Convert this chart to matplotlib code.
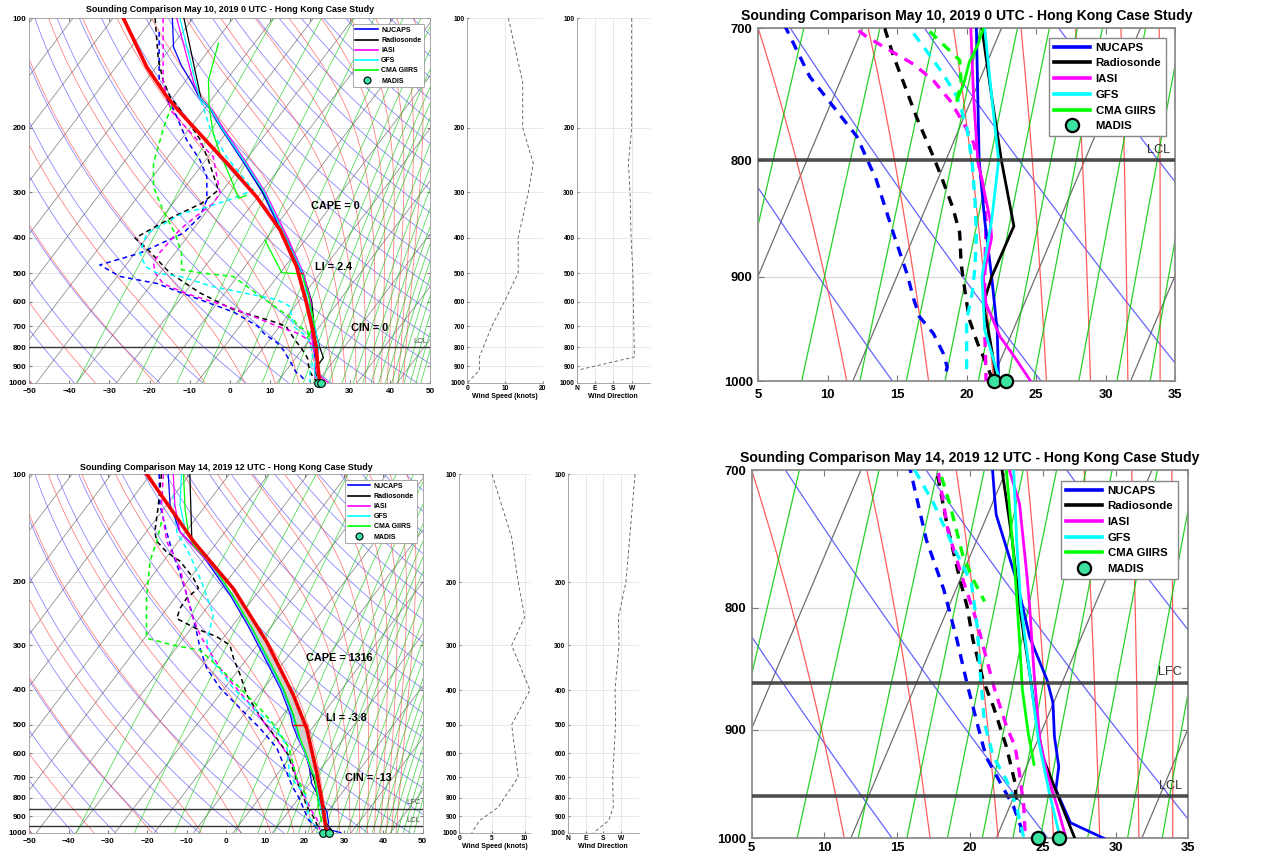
import numpy as np
import matplotlib
matplotlib.use("Agg")
import matplotlib.pyplot as plt
from matplotlib.lines import Line2D
from matplotlib.ticker import NullLocator

plt.rcParams['font.family'] = ['Liberation Sans', 'DejaVu Sans']
plt.rcParams['font.weight'] = 'bold'

nan = float('nan')

# ---------------------------------------------------------------------------
# data: pressures (hPa) and x positions on the skewed temperature axis
# ---------------------------------------------------------------------------
SOURCES = ['NUCAPS', 'Radiosonde', 'IASI', 'GFS', 'CMA GIIRS']
COLORS = ['#0000ff', '#000000', '#ff00ff', '#00ffff', '#00ff00']
MADIS_FC = '#3ce3a0'

# ---- May 10, 2019 0 UTC ----
a_nucaps_t_p = [100, 120, 135, 150, 165, 178, 200, 250, 300, 400, 500, 600, 700, 800, 850, 900, 950, 1000]
a_nucaps_t_x = [-14.3, -14.0, -12.0, -9.5, -7.6, -4.8, -2.2, 3.6, 8.1, 13.7, 18.0, 20.2, 20.7, 20.9, 21.3, 21.8, 22.2, 22.3]
a_nucaps_d_p = [109, 150, 168, 178, 216, 245, 272, 315, 350, 389, 441, 475, 511, 534, 574, 640, 700, 735, 781, 816, 864, 897, 921, 937, 953, 972, 986, 992]
a_nucaps_d_x = [-17.6, -17.6, -15.5, -14.0, -10.7, -7.4, -5.7, -5.7, -7.4, -11.6, -22.4, -32.4, -27.4, -18.2, -10.7, 1.0, 7.0, 8.7, 12.1, 13.5, 14.8, 15.7, 16.2, 16.6, 17.6, 18.3, 18.6, 18.5]

a_raob_t_p = [100, 150, 165, 178, 200, 250, 300, 400, 500, 600, 700, 750, 800, 855, 900, 925, 953, 985, 1000]
a_raob_t_x = [-11.4, -8.0, -7.2, -4.6, -1.9, 4.0, 8.4, 14.1, 18.3, 20.5, 21.1, 21.8, 22.5, 23.4, 21.8, 21.2, 21.6, 22.0, 22.1]
a_raob_d_p = [100, 130, 148, 164, 178, 215, 245, 296, 322, 350, 401, 428, 500, 567, 630, 680, 700, 719, 766, 797, 811, 839, 861, 888, 915, 940, 963, 982, 1000]
a_raob_d_x = [-18.6, -17.8, -16.6, -14.9, -12.4, -7.4, -5.3, -2.8, -7.0, -14.0, -23.6, -20.7, -14.9, -7.4, 0.9, 10.9, 14.1, 14.7, 16.4, 17.6, 18.1, 19.0, 19.5, 19.6, 19.9, 20.2, 20.8, 21.4, 21.9]

a_iasi_t_p = [100, 150, 165, 178, 200, 250, 300, 400, 500, 600, 700, 750, 800, 850, 865, 900, 925, 956, 975, 1000]
a_iasi_t_x = [-13.2, -9.0, -7.4, -4.4, -1.6, 4.3, 8.9, 14.5, 18.4, 20.3, 20.3, 20.5, 20.8, 21.7, 21.8, 21.2, 21.4, 22.4, 23.4, 24.6]
a_iasi_d_p = [100, 150, 164, 180, 220, 240, 302, 322, 350, 380, 440, 470, 500, 535, 570, 620, 700, 706, 716, 726, 738, 753, 771, 786, 800, 822, 850, 900, 950, 1000]
a_iasi_d_x = [-16.6, -16.6, -15.7, -14.5, -7.4, -4.1, -2.4, -4.1, -8.5, -12.4, -17.5, -19.0, -18.6, -16.6, -10.7, 0.0, 12.0, 12.8, 14.5, 16.2, 17.6, 18.8, 19.8, 20.5, 20.8, 21.2, 21.4, 21.3, 21.3, 21.4]

a_gfs_t_p = [100, 150, 165, 178, 200, 250, 300, 400, 500, 600, 700, 750, 800, 850, 900, 950, 1000]
a_gfs_t_x = [-12.4, -8.5, -7.5, -4.6, -2.0, 4.0, 8.6, 14.0, 18.2, 19.5, 21.3, 21.8, 22.3, 21.8, 21.1, 21.3, 22.4]
a_gfs_d_p = [160, 175, 200, 240, 296, 312, 330, 342, 390, 440, 480, 500, 511, 545, 569, 591, 617, 700, 716, 733, 750, 773, 802, 833, 862, 891, 915, 940, 969, 996]
a_gfs_d_x = [-8.0, -6.6, -4.9, -0.8, 5.9, 0.9, -5.7, -11.6, -20.7, -22.4, -21.0, -18.2, -12.4, -4.1, 4.2, 11.7, 15.0, 15.9, 17.1, 18.3, 19.3, 20.0, 20.4, 20.6, 20.7, 20.6, 20.4, 20.0, 20.0, 20.0]

a_cma_t_p = [117, 148, 175, 207, 235, 272, 312, 306, nan, 406, 499, 503, 570, 640, 700, 712, 724, 740, 753]
a_cma_t_x = [-2.8, -5.3, -5.1, -4.1, -2.4, 0.1, 2.2, 4.2, nan, 8.8, 13.0, 18.0, 19.6, 20.5, 21.2, 20.8, 20.2, 19.8, 19.3]
a_cma_d_p = [174, 200, 250, 290, 337, 390, 441, 490, 500, 511, 569, 673, 700, 723, 740, 753]
a_cma_d_x = [-14.5, -16.5, -19.0, -19.0, -16.6, -13.6, -12.0, -12.0, -7.0, 0.9, 6.7, 16.0, 17.1, 19.5, 19.6, 19.3]

a_parcel_p = [100, 136, 164, 178, 216, 255, 309, 381, 480, 606, 730, 800, 900, 1000]
a_parcel_x = [-26.5, -20.7, -15.7, -13.0, -6.0, 0.1, 6.7, 12.6, 16.7, 19.2, 20.9, 21.6, 22.0, 22.5]
a_li_x = [16.7, 18.4]
a_madis_x = [22.0, 22.8]

a_wind_p = [100, 150, 200, 250, 300, 400, 500, 600, 700, 850, 925, 1000]
a_wspd = [10.9, 14.7, 14.7, 17.5, 16.2, 13.5, 13.5, 9.8, 6.5, 3.2, 3.2, 0.0]
a_wdir_p = [100, 200, 250, 300, 400, 500, 850, 925]
a_wdir = [270, 270, 254, 262, 267, 276, 283, 0]

# ---- May 14, 2019 12 UTC ----
b_nucaps_t_p = [100, 122, 145, 158, 175, 217, 270, 319, 396, 470, 500, 546, 606, 660, 700, 720, 731, 779, 823, 858, 877, 906, 933, 954, 985, 1000]
b_nucaps_t_x = [-14.7, -14.2, -11.7, -8.3, -4.9, 1.0, 6.0, 9.4, 13.8, 16.4, 16.9, 18.3, 20.3, 21.2, 21.55, 21.7, 21.8, 23.2, 24.1, 25.3, 25.7, 25.8, 26.1, 25.9, 26.9, 29.2]
b_nucaps_d_p = [100, 122, 145, 168, 195, 217, 243, 275, 306, 348, 395, 450, 511, 580, 660, 700, 749, 786, 825, 861, 895, 924, 948, 970, 989, 1000]
b_nucaps_d_x = [-17.0, -16.8, -15.1, -13.4, -11.3, -10.0, -8.7, -7.5, -6.6, -4.9, -1.5, 3.6, 8.6, 12.9, 15.0, 15.9, 17.0, 18.2, 19.1, 19.8, 20.5, 21.1, 22.1, 23.0, 23.5, 23.5]

b_raob_t_p = [100, 151, 179, 217, 270, 319, 396, 470, 546, 606, 676, 700, 749, 799, 852, 895, 924, 948, 979, 1000]
b_raob_t_x = [-9.2, -8.7, -3.6, 1.5, 6.6, 10.0, 14.3, 16.9, 18.6, 20.3, 21.6, 22.2, 22.9, 23.4, 24.1, 24.6, 25.0, 25.7, 26.6, 27.2]
b_raob_d_p = [100, 125, 145, 154, 165, 175, 195, 208, 222, 237, 253, 270, 284, 300, 326, 363, 413, 490, 546, 606, 676, 700, 737, 778, 799, 825, 858, 880, 915, 948, 970]
b_raob_d_x = [-16.4, -17.3, -18.1, -17.6, -15.1, -11.7, -8.3, -7.0, -10.0, -11.7, -12.5, -7.5, -2.4, 1.0, 1.9, 3.6, 5.3, 9.5, 12.9, 15.8, 17.2, 17.7, 18.4, 19.3, 19.8, 20.2, 20.9, 21.6, 22.5, 23.1, 23.2]

b_iasi_t_p = [100, 122, 145, 158, 179, 217, 270, 319, 396, 470, 546, 606, 676, 700, 723, 774, 799, 852, 909, 939, 970, 1000]
b_iasi_t_x = [-13.4, -13.0, -11.7, -8.6, -3.8, 1.3, 6.4, 9.8, 14.1, 16.7, 18.5, 20.2, 21.7, 22.7, 23.4, 23.9, 24.1, 24.4, 24.8, 25.3, 26.0, 26.6]
b_iasi_d_p = [100, 122, 154, 183, 217, 247, 281, 313, 348, 387, 450, 534, 580, 646, 700, 743, 778, 812, 839, 866, 897, 915, 939, 970, 1000]
b_iasi_d_x = [-15.9, -16.4, -15.1, -11.7, -10.0, -8.7, -6.6, -4.1, -1.5, 1.9, 7.0, 12.0, 14.5, 17.0, 17.8, 18.5, 19.5, 20.5, 21.1, 21.7, 22.5, 23.1, 23.4, 23.7, 23.8]

b_gfs_t_p = [100, 122, 142, 155, 179, 217, 270, 319, 396, 470, 546, 606, 676, 700, 749, 799, 852, 909, 954, 1000]
b_gfs_t_x = [-11.3, -11.7, -10.4, -8.3, -3.7, 1.4, 6.5, 9.9, 14.2, 16.8, 18.6, 20.3, 21.8, 23.0, 23.2, 23.5, 24.1, 24.7, 25.4, 26.2]
b_gfs_d_p = [114, 145, 168, 200, 247, 293, 334, 396, 450, 502, 570, 660, 700, 723, 755, 781, 815, 852, 895, 924, 945, 970, 1000]
b_gfs_d_x = [-13.4, -12.5, -9.2, -6.2, -3.2, -4.9, -3.2, 1.9, 7.0, 12.0, 15.4, 16.0, 16.2, 17.5, 18.9, 20.1, 20.5, 20.7, 21.0, 21.6, 22.5, 23.2, 23.7]

b_cma_t_p = [100, 125, 145, 158, 179, 217, 270, 319, 396, 470, 546, 606, 676, 700, 774, 825, 866, 903, 931]
b_cma_t_x = [-10.8, -10.4, -9.6, -8.3, -3.5, 1.6, 6.7, 10.2, 14.6, 17.2, 18.8, 20.5, 21.9, 22.5, 23.1, 23.4, 23.6, 24.0, 24.4]
b_cma_d_p = [136, 154, 175, 222, 287, 300, 310, 348, 396, 450, 511, 580, 660, 700, 723, 760, 778, 795]
b_cma_d_x = [-16.4, -17.6, -19.3, -20.2, -20.2, -13.4, -6.6, -1.5, 3.6, 8.6, 12.9, 16.0, 17.3, 17.9, 18.6, 19.5, 20.2, 21.0]

b_parcel_p = [100, 154, 209, 293, 413, 512, 675, 855, 960, 1000]
b_parcel_x = [-20.2, -8.3, 1.9, 10.3, 17.1, 20.5, 23.0, 24.7, 25.3, 25.6]
b_li_x = [17.1, 20.5]
b_madis_x = [24.7, 26.1]

b_wind_p = [100, 150, 200, 250, 300, 400, 500, 700, 850, 925, 1000]
b_wspd = [5.0, 8.0, 9.0, 10.0, 8.0, 10.8, 8.0, 9.0, 5.9, 3.1, 1.9]
b_wdir_p = [100, 200, 250, 300, 400, 500, 700, 850, 925, 1000]
b_wdir = [340, 294, 256, 259, 239, 242, 227, 230, 207, 130]

# thermodynamic background (skew-T grid)
SKEW = 30.0
P_REF = 1062.0
ISOTHERMS = np.arange(-130, 60, 10)
DRY_THETA = 286 + 10.7 * np.arange(-7, 19)
MOIST_THETAE = 238.3 + 16.3 * np.arange(-1, 17)
MIX_RATIO = [0.12, 0.5, 1.2, 2, 4, 6, 8, 10, 12, 14, 16, 18, 22, 26, 30, 34, 38,
             42, 46, 50, 55, 60, 65, 70, 80]


def skew_x(t, p):
    return t + SKEW * np.log(P_REF / p)


def sat_vap(tc):
    return 6.112 * np.exp(17.67 * tc / (tc + 243.5))


def theta_e(tc, p):
    tk = tc + 273.15
    r = 622.0 * sat_vap(tc) / (p - sat_vap(tc))
    return tk * (1000.0 / p) ** (0.2854 * (1 - 0.00028 * r)) * \
        np.exp((3.376 / tk - 0.00254) * r * (1 + 0.00081 * r))


def moist_rate(tk, p):
    tc = tk - 273.15
    es = sat_vap(tc)
    rs = 0.622 * es / (p - es)
    lv = 2.501e6
    return (287.04 * tk + lv * rs) / (1005.7 + lv ** 2 * rs * 0.622 / (287.04 * tk ** 2))


p_bg = np.logspace(3, 2, 300)

iso_lines = [skew_x(t, p_bg) for t in ISOTHERMS]
dry_lines = [skew_x(th * (p_bg / 1000.0) ** 0.2857 - 273.15, p_bg) for th in DRY_THETA]

tgrid = np.linspace(-80, 60, 2801)
t_start = np.interp(MOIST_THETAE, theta_e(tgrid, 1000.0), tgrid)
tk = t_start + 273.15
moist_t = [tk.copy()]
lnp = np.log(p_bg)
for i in range(1, len(p_bg)):
    d = lnp[i] - lnp[i - 1]
    k1 = moist_rate(tk, p_bg[i - 1])
    k2 = moist_rate(tk + 0.5 * d * k1, np.exp(0.5 * (lnp[i] + lnp[i - 1])))
    tk = tk + d * k2
    moist_t.append(tk.copy())
moist_t = np.array(moist_t) - 273.15
moist_lines = [skew_x(moist_t[:, j], p_bg) for j in range(moist_t.shape[1])]

mix_lines = []
for w in MIX_RATIO:
    e = w * p_bg / (622.0 + w)
    lr = np.log(e / 6.112)
    mix_lines.append(skew_x(243.5 * lr / (17.67 - lr), p_bg))

# ---------------------------------------------------------------------------
W, H = 1261, 855
fig = plt.figure(figsize=(W / 100, H / 100), dpi=100)


def px_axes(l, t, r, b):
    return fig.add_axes([l / W, 1 - b / H, (r - l) / W, (b - t) / H])


def case_table(pre):
    g = globals()
    keys = ['nucaps', 'raob', 'iasi', 'gfs', 'cma']
    return [(g[pre + k + '_t_p'], g[pre + k + '_t_x'], g[pre + k + '_d_p'], g[pre + k + '_d_x'])
            for k in keys]


def setup_skew(ax, xlim, xstep, pbot, ptop, big, xpad=None):
    ax.set_yscale('log')
    ax.set_xlim(*xlim)
    ax.set_xticks(np.arange(xlim[0], xlim[1] + 0.1, xstep))
    ax.set_ylim(pbot, ptop)
    ticks = [t for t in range(100, 1001, 100) if ptop <= t <= pbot]
    ax.set_yticks(ticks)
    ax.set_yticklabels([str(t) for t in ticks])
    ax.yaxis.set_minor_locator(NullLocator())
    ax.grid(axis='y', color='#d9d9d9', lw=0.9 if big else 0.5, zorder=0)
    ax.set_axisbelow(True)
    fs = 9.4 if big else 5.8
    ax.tick_params(labelsize=fs, direction='in', length=4 if big else 2,
                   color='#777777', pad=4 if big else 2, right=True, top=True)
    if xpad is None:
        xpad = 6 if big else 3.5
    ax.tick_params(axis='x', pad=xpad)
    for s in ax.spines.values():
        s.set_color('#8c8c8c' if big else '#9a9a9a')
        s.set_linewidth(1.3 if big else 0.6)


def draw_background(ax, big):
    lw = 0.9 if big else 0.55
    al = 0.85 if big else 0.7
    for x in iso_lines:
        ax.plot(x, p_bg, color='#555555', lw=lw, alpha=al, zorder=1)
    for x in dry_lines:
        ax.plot(x, p_bg, color='#4848ff', lw=lw, alpha=al, zorder=1)
    for x in moist_lines:
        ax.plot(x, p_bg, color='#ff4040', lw=lw, alpha=al, zorder=1)
    for x in mix_lines:
        ax.plot(x, p_bg, color='#00c800', lw=lw, alpha=al, zorder=1)


def draw_profiles(ax, table, madis_x, big):
    lw_t = 2.0 if big else 0.9
    lw_d = 2.4 if big else 1.1
    dash = (3.0, 2.4) if big else (3.2, 2.4)
    for (tp, tx, dp, dx), c in zip(table, COLORS):
        ax.plot(dx, dp, color=c, lw=lw_d, dashes=dash, zorder=3)
        ax.plot(tx, tp, color=c, lw=lw_t, zorder=4)
    ax.plot(madis_x, [1000] * len(madis_x), ls='none', marker='o', mfc=MADIS_FC,
            mec='k', ms=9.5 if big else 5.5, mew=1.6 if big else 0.8,
            zorder=7, clip_on=False)


def add_legend(ax, anchor, big):
    fs = 8.2 if big else 5.0
    lw = 2.6 if big else 1.2
    hs = [Line2D([], [], color=c, lw=lw) for c in COLORS]
    hs.append(Line2D([], [], ls='none', marker='o', mfc=MADIS_FC, mec='k',
                     ms=9.5 if big else 5.0, mew=1.6 if big else 0.8))
    leg = ax.legend(hs, SOURCES + ['MADIS'], loc='upper right', bbox_to_anchor=anchor,
                    prop={'weight': 'bold', 'size': fs}, handlelength=3.2,
                    labelspacing=0.5 if big else 0.45, borderpad=0.4,
                    handletextpad=0.5, fancybox=False, framealpha=1,
                    edgecolor='#888888', borderaxespad=0)
    leg.get_frame().set_linewidth(1.0 if big else 0.5)
    leg.set_zorder(10)


def setup_wind(ax, xlim, xticks, xlabels, xlabel):
    ax.set_yscale('log')
    ax.set_ylim(1000, 100)
    ax.set_yticks(list(range(100, 1001, 100)))
    ax.set_yticklabels([str(t) for t in range(100, 1001, 100)])
    ax.yaxis.set_minor_locator(NullLocator())
    ax.set_xlim(*xlim)
    ax.set_xticks(xticks)
    ax.set_xticklabels(xlabels)
    ax.grid(True, color='#dedede', lw=0.5)
    ax.set_axisbelow(True)
    ax.tick_params(labelsize=4.8, direction='in', length=1.5, pad=1.5, color='#777777')
    ax.set_xlabel(xlabel, fontsize=5, fontweight='bold', labelpad=1)
    for s in ax.spines.values():
        s.set_color('#9a9a9a')
        s.set_linewidth(0.6)
    for s in ['top', 'right']:
        ax.spines[s].set_visible(False)


TITLE_A = 'Sounding Comparison May 10, 2019 0 UTC - Hong Kong Case Study'
TITLE_B = 'Sounding Comparison May 14, 2019 12 UTC - Hong Kong Case Study'

table_a = case_table('a_')
table_b = case_table('b_')

# ------------------------------ top row -----------------------------------
ax = px_axes(29.3, 18.3, 430.0, 382.7)
setup_skew(ax, (-50, 50), 10, 1000, 100, False)
draw_background(ax, False)
draw_profiles(ax, table_a, a_madis_x, False)
ax.plot(a_parcel_x, a_parcel_p, color='#ff0000', lw=2.6, zorder=5)
ax.plot(a_li_x, [500, 500], color='#ff0000', lw=1.0, zorder=5)
ax.axhline(800, color='#333333', lw=1.0, zorder=6)
ax.text(26.5, 327, 'CAPE = 0', fontsize=7.8, ha='center', va='center', zorder=8)
ax.text(25.9, 481, 'LI = 2.4', fontsize=7.8, ha='center', va='center', zorder=8)
ax.text(35.0, 707, 'CIN = 0', fontsize=7.8, ha='center', va='center', zorder=8)
ax.text(47.5, 769, 'LCL', fontsize=5.5, fontweight='normal', color='#444444',
        ha='center', va='center', zorder=8)
add_legend(ax, (0.985, 0.984), False)
fig.text(229.7 / W, 1 - 9 / H, TITLE_A, fontsize=6.4, ha='center', va='center')

ax = px_axes(467.3, 18.3, 542.7, 382.7)
setup_wind(ax, (0, 20), [0, 10, 20], ['0', '10', '20'], 'Wind Speed (knots)')
ax.plot(a_wspd, a_wind_p, color='#555555', lw=0.6, dashes=(4, 3))

ax = px_axes(576.7, 18.3, 650.0, 382.7)
setup_wind(ax, (0, 360), [0, 90, 180, 270], ['N', 'E', 'S', 'W'], 'Wind Direction')
ax.plot(a_wdir, a_wdir_p, color='#555555', lw=0.6, dashes=(4, 3))

ax = px_axes(758.3, 28.3, 1175.0, 381.0)
setup_skew(ax, (5, 35), 5, 1000, 700, True)
draw_background(ax, True)
draw_profiles(ax, table_a, a_madis_x, True)
ax.axhline(800, color='#3c3c3c', lw=2.6, alpha=0.9, zorder=6)
ax.text(33.8, 792, 'LCL', fontsize=9.2, fontweight='normal', color='#333333',
        ha='center', va='center', zorder=8)
add_legend(ax, (0.978, 0.972), True)
fig.text(967 / W, 1 - 16 / H, TITLE_A, fontsize=10.1, ha='center', va='center')

# ----------------------------- bottom row ---------------------------------
ax = px_axes(29.3, 474.0, 422.7, 832.7)
setup_skew(ax, (-50, 50), 10, 1000, 100, False)
draw_background(ax, False)
fill_x = b_parcel_x[2:7] + b_raob_t_x[3:11][::-1]
fill_p = b_parcel_p[2:7] + b_raob_t_p[3:11][::-1]
ax.fill(fill_x, fill_p, color='#cfcfcf', zorder=2)
draw_profiles(ax, table_b, b_madis_x, False)
ax.plot(b_parcel_x, b_parcel_p, color='#ff0000', lw=2.6, zorder=5)
ax.plot(b_parcel_x, b_parcel_p, color='#a00000', lw=0.6, dashes=(3, 3), zorder=5)
ax.plot(b_li_x, [500, 500], color='#ff0000', lw=1.0, zorder=5)
ax.axhline(860, color='#333333', lw=1.0, zorder=6)
ax.axhline(960, color='#333333', lw=1.0, zorder=6)
ax.text(28.7, 325, 'CAPE = 1316', fontsize=7.8, ha='center', va='center', zorder=8)
ax.text(30.7, 480, 'LI = -3.8', fontsize=7.8, ha='center', va='center', zorder=8)
ax.text(36.3, 703, 'CIN = -13', fontsize=7.8, ha='center', va='center', zorder=8)
ax.text(47.6, 825, 'LFC', fontsize=5.5, fontweight='normal', color='#444444',
        ha='center', va='center', zorder=8)
ax.text(47.6, 922, 'LCL', fontsize=5.5, fontweight='normal', color='#444444',
        ha='center', va='center', zorder=8)
add_legend(ax, (0.985, 0.983), False)
fig.text(226 / W, 1 - 467.7 / H, TITLE_B, fontsize=6.4, ha='center', va='center')

ax = px_axes(459.3, 474.3, 530.0, 832.7)
setup_wind(ax, (0, 10.8), [0, 5, 10], ['0', '5', '10'], 'Wind Speed (knots)')
ax.plot(b_wspd, b_wind_p, color='#555555', lw=0.6, dashes=(4, 3))

ax = px_axes(567.7, 474.3, 639.0, 832.7)
setup_wind(ax, (0, 360), [0, 90, 180, 270], ['N', 'E', 'S', 'W'], 'Wind Direction')
ax.plot(b_wdir, b_wdir_p, color='#555555', lw=0.6, dashes=(4, 3))

ax = px_axes(751.7, 470.0, 1188.3, 838.3)
setup_skew(ax, (5, 35), 5, 1000, 700, True, xpad=2.5)
draw_background(ax, True)
draw_profiles(ax, table_b, b_madis_x, True)
ax.axhline(860, color='#3c3c3c', lw=2.6, alpha=0.9, zorder=6)
ax.axhline(960, color='#3c3c3c', lw=2.6, alpha=0.9, zorder=6)
ax.text(33.75, 851, 'LFC', fontsize=9.2, fontweight='normal', color='#333333',
        ha='center', va='center', zorder=8)
ax.text(33.75, 951, 'LCL', fontsize=9.2, fontweight='normal', color='#333333',
        ha='center', va='center', zorder=8)
add_legend(ax, (0.976, 0.970), True)
fig.text(970 / W, 1 - 458 / H, TITLE_B, fontsize=10.1, ha='center', va='center')

fig.savefig('out.png', dpi=100)
